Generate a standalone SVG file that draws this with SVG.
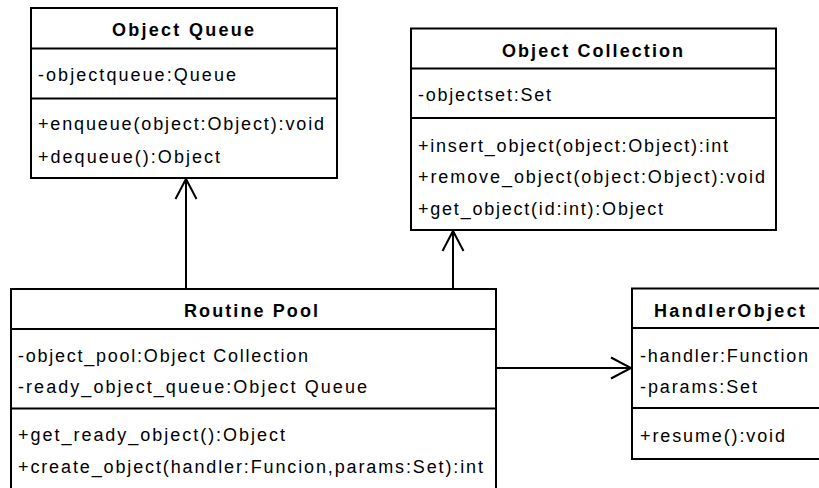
<svg xmlns="http://www.w3.org/2000/svg" width="819" height="488" viewBox="0 0 819 488">
  <style>
    .box { fill: #ffffff; stroke: #000000; stroke-width: 2; }
    .div { stroke: #000000; stroke-width: 2; }
    .title { font-family: "Liberation Sans", Arial, sans-serif; font-size: 18px; font-weight: bold; fill: #000000; text-anchor: middle; }
    .member { font-family: "Liberation Sans", Arial, sans-serif; font-size: 18px; fill: #000000; }
    .link { fill: none; stroke: #000000; stroke-width: 2; marker-end: url(#open-arrow); }
  </style>
  <defs>
    <!-- open "V" arrowhead used for the navigable associations -->
    <marker id="open-arrow" markerUnits="userSpaceOnUse" markerWidth="26" markerHeight="26" viewBox="-23 -13 26 26" refX="0" refY="0" orient="auto" overflow="visible">
      <path d="M -20,-10.5 L 0,0 L -20,10.5" fill="none" stroke="#000000" stroke-width="2"/>
    </marker>
  </defs>
  <rect width="819" height="488" fill="#ffffff"/>

  <!-- associations -->
  <g id="connectors">
    <path class="link" d="M 186,289 L 186,179"/>
    <path class="link" d="M 453,289 L 453,231"/>
    <path class="link" d="M 496,368 L 631,368"/>
  </g>

  <g id="object-queue">
    <rect class="box" x="31" y="8" width="306" height="170"/>
    <line class="div" x1="31" y1="48.5" x2="337" y2="48.5"/>
    <line class="div" x1="31" y1="98.5" x2="337" y2="98.5"/>
    <text class="title" x="183" y="36" textLength="142" lengthAdjust="spacing">Object Queue</text>
    <text class="member" x="38" y="81" textLength="198" lengthAdjust="spacing">-objectqueue:Queue</text>
    <text class="member" x="38" y="130" textLength="286" lengthAdjust="spacing">+enqueue(object:Object):void</text>
    <text class="member" x="38" y="163" textLength="182" lengthAdjust="spacing">+dequeue():Object</text>
  </g>

  <g id="object-collection">
    <rect class="box" x="411" y="28.5" width="365" height="201.5"/>
    <line class="div" x1="411" y1="68.5" x2="776" y2="68.5"/>
    <line class="div" x1="411" y1="118" x2="776" y2="118"/>
    <text class="title" x="592.5" y="57" textLength="181" lengthAdjust="spacing">Object Collection</text>
    <text class="member" x="418" y="101" textLength="133" lengthAdjust="spacing">-objectset:Set</text>
    <text class="member" x="418" y="152" textLength="310" lengthAdjust="spacing">+insert_object(object:Object):int</text>
    <text class="member" x="418" y="183" textLength="347" lengthAdjust="spacing">+remove_object(object:Object):void</text>
    <text class="member" x="418" y="215" textLength="245" lengthAdjust="spacing">+get_object(id:int):Object</text>
  </g>

  <g id="routine-pool">
    <rect class="box" x="11" y="289" width="485" height="210"/>
    <line class="div" x1="11" y1="329" x2="496" y2="329"/>
    <line class="div" x1="11" y1="408.5" x2="496" y2="408.5"/>
    <text class="title" x="251" y="317" textLength="134" lengthAdjust="spacing">Routine Pool</text>
    <text class="member" x="18" y="362" textLength="290" lengthAdjust="spacing">-object_pool:Object Collection</text>
    <text class="member" x="18" y="393" textLength="349" lengthAdjust="spacing">-ready_object_queue:Object Queue</text>
    <text class="member" x="18" y="441" textLength="267" lengthAdjust="spacing">+get_ready_object():Object</text>
    <text class="member" x="18" y="473" textLength="465" lengthAdjust="spacing">+create_object(handler:Funcion,params:Set):int</text>
  </g>

  <g id="handler-object">
    <rect class="box" x="632" y="288.5" width="200" height="170.5"/>
    <line class="div" x1="632" y1="328" x2="832" y2="328"/>
    <line class="div" x1="632" y1="408" x2="832" y2="408"/>
    <text class="title" x="729.5" y="317" textLength="151" lengthAdjust="spacing">HandlerObject</text>
    <text class="member" x="640" y="362" textLength="168" lengthAdjust="spacing">-handler:Function</text>
    <text class="member" x="640" y="393" textLength="117" lengthAdjust="spacing">-params:Set</text>
    <text class="member" x="640" y="442" textLength="145" lengthAdjust="spacing">+resume():void</text>
  </g>
</svg>
